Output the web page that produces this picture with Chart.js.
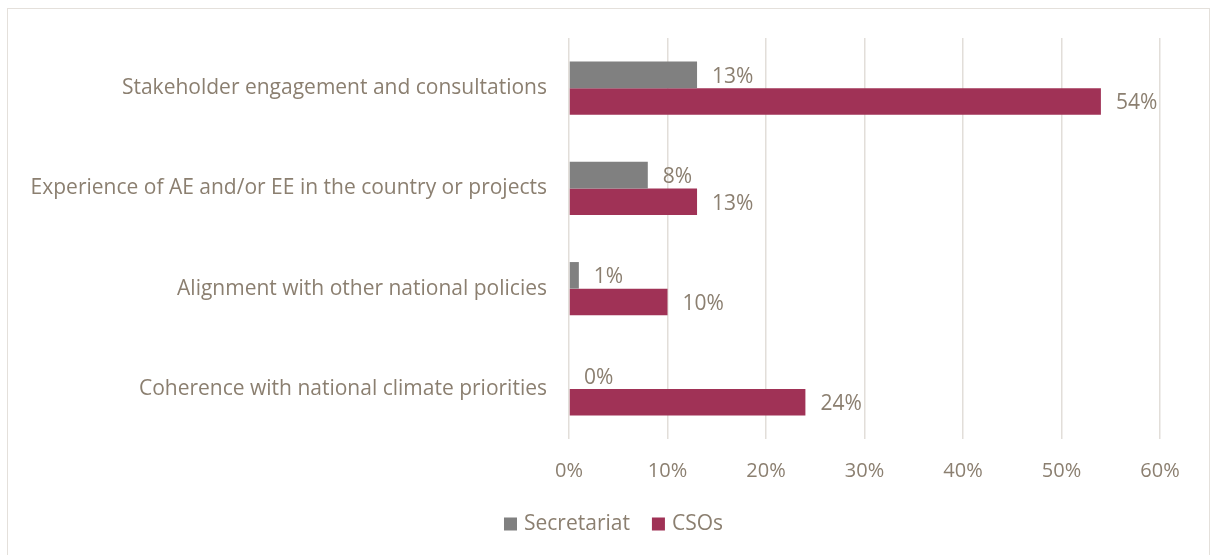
<!DOCTYPE html>
<html>
<head>
<meta charset="utf-8">
<script src="https://cdn.jsdelivr.net/npm/chart.js@4/dist/chart.umd.min.js"></script>
<style>
  html, body { margin: 0; padding: 0; background: #fff; }
  .wrap { position: relative; width: 1211px; height: 555px; overflow: hidden; }
  .frame { position: absolute; left: 7px; top: 8px; width: 1201px; height: 600px; border: 1px solid #e4e0db; border-bottom: none; }
  canvas { position: absolute; left: 0; top: 0; }
</style>
</head>
<body>
<div class="wrap">
  <div class="frame"></div>
  <canvas id="factorChart" width="1211" height="555"></canvas>
</div>
<script>
const categories = [
  'Stakeholder engagement and consultations',
  'Experience of AE and/or EE in the country or projects',
  'Alignment with other national policies',
  'Coherence with national climate priorities'
];
const secretariat = [13, 8, 1, 0];
const csos = [54, 13, 10, 24];
const xTicks = [0, 10, 20, 30, 40, 50, 60];

const textColor = '#8b7f70';
const fontFamily = '"Open Sans", Lato, sans-serif';

// value labels at the end of each bar
const barLabels = {
  id: 'barLabels',
  afterDatasetsDraw(chart) {
    const c = chart.ctx;
    c.save();
    c.font = '21px ' + fontFamily;
    c.fillStyle = textColor;
    c.textAlign = 'left';
    c.textBaseline = 'middle';
    chart.data.datasets.forEach((ds, i) => {
      chart.getDatasetMeta(i).data.forEach((bar, j) => {
        c.fillText(ds.data[j] + '%', bar.x + 15, bar.y + 2);
      });
    });
    c.restore();
  }
};

// legend drawn under the axis
const bottomLegend = {
  id: 'bottomLegend',
  afterDraw(chart) {
    const c = chart.ctx;
    c.save();
    c.font = '21px ' + fontFamily;
    c.textBaseline = 'middle';
    const items = chart.data.datasets.map(ds => ({ text: ds.label, color: ds.backgroundColor }));
    const box = 13, gap = 7, space = 22;
    let total = 0;
    items.forEach((it, i) => {
      it.w = box + gap + c.measureText(it.text).width;
      total += it.w + (i ? space : 0);
    });
    let x = 613.5 - total / 2;
    const y = 524;
    items.forEach(it => {
      c.fillStyle = it.color;
      c.fillRect(x, y - box / 2, box, box);
      c.fillStyle = textColor;
      c.fillText(it.text, x + box + gap, y);
      x += it.w + space;
    });
    c.restore();
  }
};

new Chart(document.getElementById('factorChart'), {
  type: 'bar',
  data: {
    labels: categories,
    datasets: [
      { label: 'Secretariat', data: secretariat, backgroundColor: '#808080' },
      { label: 'CSOs', data: csos, backgroundColor: '#a03256' }
    ]
  },
  options: {
    indexAxis: 'y',
    responsive: false,
    animation: false,
    categoryPercentage: 0.53,
    barPercentage: 1,
    layout: { padding: { top: 38, right: 51, bottom: 52, left: 0 } },
    plugins: {
      legend: { display: false },
      tooltip: { enabled: false }
    },
    scales: {
      x: {
        min: 0,
        max: 60,
        afterBuildTicks(scale) {
          scale.ticks = xTicks.map(v => ({ value: v }));
        },
        ticks: {
          callback: v => v + '%',
          color: textColor,
          font: { family: fontFamily, size: 20 },
          padding: 20
        },
        grid: { color: '#e2ded9', lineWidth: 1.5, drawTicks: false },
        border: { display: false }
      },
      y: {
        afterFit(scale) { scale.width = 569; },
        ticks: {
          color: textColor,
          font: { family: fontFamily, size: 21 },
          padding: 22
        },
        grid: { display: false, drawTicks: false },
        border: { display: false }
      }
    }
  },
  plugins: [barLabels, bottomLegend]
});
</script>
</body>
</html>
